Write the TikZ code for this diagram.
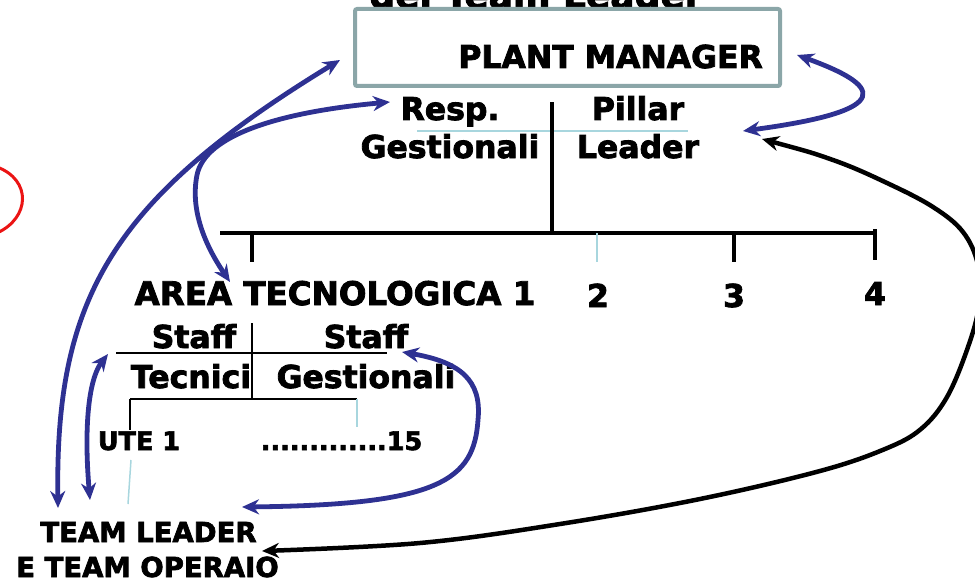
\documentclass[tikz,border=0pt]{standalone}
\usepackage{fontspec}
\setmainfont{DejaVu Sans}[BoldFont={DejaVu Sans Bold}, BoldFeatures={FakeBold=2.5}]
\usetikzlibrary{arrows.meta}
\definecolor{linkblue}{RGB}{46,49,146}
\definecolor{boxgray}{RGB}{139,166,168}
\definecolor{paleblue}{RGB}{168,214,222}
\definecolor{markred}{RGB}{235,20,20}
\tikzset{
  lbl/.style={font=\bfseries\fontsize{31.5}{36}\selectfont, inner sep=0pt, anchor=base},
  smalllbl/.style={font=\bfseries\fontsize{25.5}{30}\selectfont, inner sep=0pt, anchor=base},
  teamlbl/.style={font=\bfseries\fontsize{27.5}{32}\selectfont, inner sep=0pt, anchor=base},
  rule/.style={draw=black, line width=3.5pt},
  thinrule/.style={draw=black, line width=1.8pt},
  palerule/.style={draw=paleblue, line width=1.5pt},
  bluelink/.style={draw=linkblue, line width=4.8pt, {Stealth[length=17pt,width=15pt]}-{Stealth[length=17pt,width=15pt]}},
  blacklink/.style={draw=black, line width=4.5pt, {Stealth[length=17pt,width=15pt]}-{Stealth[length=17pt,width=15pt]}},
}
\begin{document}
\begin{tikzpicture}[x=1pt,y=-1pt]
  \useasboundingbox (0,0) rectangle (975,578);
  \clip (0,0) rectangle (975,578);

  % heading above the box, running off the top
  \node[font=\bfseries\fontsize{36}{42}\selectfont, inner sep=0pt, anchor=base] (head) at (536,8) {del Team Leader};

  % plant manager box
  \node[draw=boxgray, line width=4pt, rounded corners=2pt, minimum width=425pt, minimum height=77pt, fill=white] (pmbox) at (567.5,47.5) {};
  \node[lbl, anchor=base east] (pm) at (763,68) {PLANT MANAGER};

  % staff under the plant manager
  \node[lbl] (resp) at (450,120) {Resp.};
  \node[lbl] (gest) at (450,158) {Gestionali};
  \node[lbl] (pillar) at (638,120) {Pillar};
  \node[lbl] (leader) at (638,158) {Leader};
  \draw[palerule] (417,131) -- (688,131);
  \draw[rule] (552,102) -- (552,235);

  % technological areas
  \draw[rule] (220,233) -- (875,233);
  \draw[rule] (252,233) -- (252,262);
  \draw[palerule] (597,233) -- (597,262);
  \draw[rule] (734,233) -- (734,262);
  \draw[rule] (875,229) -- (875,260);
  \node[lbl, font=\bfseries\fontsize{32.5}{38}\selectfont] (area) at (335,305) {AREA TECNOLOGICA 1};
  \node[lbl] (a2) at (598,307) {2};
  \node[lbl] (a3) at (734,307) {3};
  \node[lbl] (a4) at (875,305) {4};

  % staff of the area
  \node[lbl] (stafft) at (194,348) {Staff};
  \node[lbl] (staffg) at (366,348) {Staff};
  \node[lbl] (tecn) at (191,388) {Tecnici};
  \node[lbl] (gestb) at (366,388) {Gestionali};
  \draw[thinrule] (116,353) -- (387,353);
  \draw[thinrule] (252,323) -- (252,399);
  \draw[thinrule] (130,399) -- (357,399);
  \draw[thinrule] (130,399) -- (130,430);
  \draw[palerule] (357,399) -- (357,427);

  % units
  \node[smalllbl] (ute) at (139,450) {UTE 1};
  \node[smalllbl] (ute15) at (341.5,450) {.............15};
  \draw[palerule] (131,460) -- (128,504);

  % team level
  \node[teamlbl] (team) at (148.5,542) {TEAM LEADER};
  \node[teamlbl] (oper) at (147.5,577) {E TEAM OPERAIO};

  % red mark at the left border
  \draw[markred, line width=3pt] (-3,167) .. controls (32,180) and (30,218) .. (-3,233);

  % link end points
  \coordinate (pmL) at (340,60);
  \coordinate (pmR) at (797,55);
  \coordinate (respL) at (390,102);
  \coordinate (pillR) at (743,131);
  \coordinate (leadR) at (762,139);
  \coordinate (areaT) at (230,282);
  \coordinate (stafftL) at (108,354);
  \coordinate (staffgR) at (402,352);
  \coordinate (teamA) at (58,508);
  \coordinate (teamB) at (90,500);
  \coordinate (teamR) at (242,507);
  \coordinate (operR) at (262,551);

  % links
  \draw[bluelink] (teamA) .. controls (55,300) and (110,200) .. (pmL);
  \draw[bluelink] (teamB) .. controls (84,430) and (88,380) .. (stafftL);
  \draw[bluelink] (areaT) .. controls (205,245) and (190,210) .. (197,175) .. controls (205,135) and (280,112) .. (respL);
  \draw[bluelink] (staffgR) .. controls (460,362) and (482,380) .. (478,420) .. controls (474,480) and (440,505) .. (teamR);
  \draw[bluelink] (pmR) .. controls (880,85) and (900,110) .. (pillR);
  \draw[blacklink] plot[smooth, tension=0.6] coordinates {(leadR) (833,160) (887,183) (933,207) (963,232) (978,265) (979,305) (968,347) (947,397) (921,429) (885,449) (820,471) (700,499) (560,524) (420,543) (operR)};
\end{tikzpicture}
\end{document}
